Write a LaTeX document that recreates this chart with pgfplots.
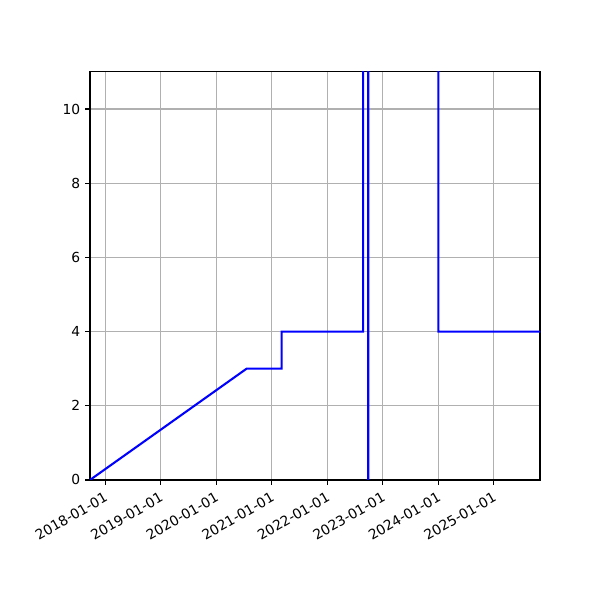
\documentclass[border=0pt]{standalone}
\usepackage{fontspec}
\setmainfont{DejaVu Sans}
\usepackage{pgfplots}
\pgfplotsset{compat=1.18}
\begin{document}
\begin{tikzpicture}
\path (0,0) rectangle (6in,6in);
\begin{axis}[
    at={(0.9in,1.2in)}, anchor=south west,
    scale only axis, width=4.5in, height=4.08in,
    xmin=-100, xmax=2860, ymin=0, ymax=11,
    xtick={0,365,730,1096,1461,1826,2191,2557},
    xticklabels={2018-01-01,2019-01-01,2020-01-01,2021-01-01,2022-01-01,2023-01-01,2024-01-01,2025-01-01},
    ytick={0,2,4,6,8,10},
    /pgf/number format/assume math mode=true,
    grid=major,
    grid style={color=black!31, line width=0.8pt},
    axis line style={line width=0.8pt},
    tick style={black, line width=0.8pt},
    tick align=outside, tick pos=left,
    major tick length=3.5pt,
    x tick label style={rotate=30, anchor=north east, font=\fontsize{10}{12}\selectfont},
    y tick label style={font=\fontsize{10}{12}\selectfont},
]
\addplot[blue, line width=1.5pt] coordinates {
    (-100,0) (930,3) (1160,3) (1160,4) (1697,4) (1697,100) (1730,100)
    (1730,-100) (1731,-100) (1731,100) (2191,100) (2191,4) (2860,4)
};
\end{axis}
\end{tikzpicture}
\end{document}
